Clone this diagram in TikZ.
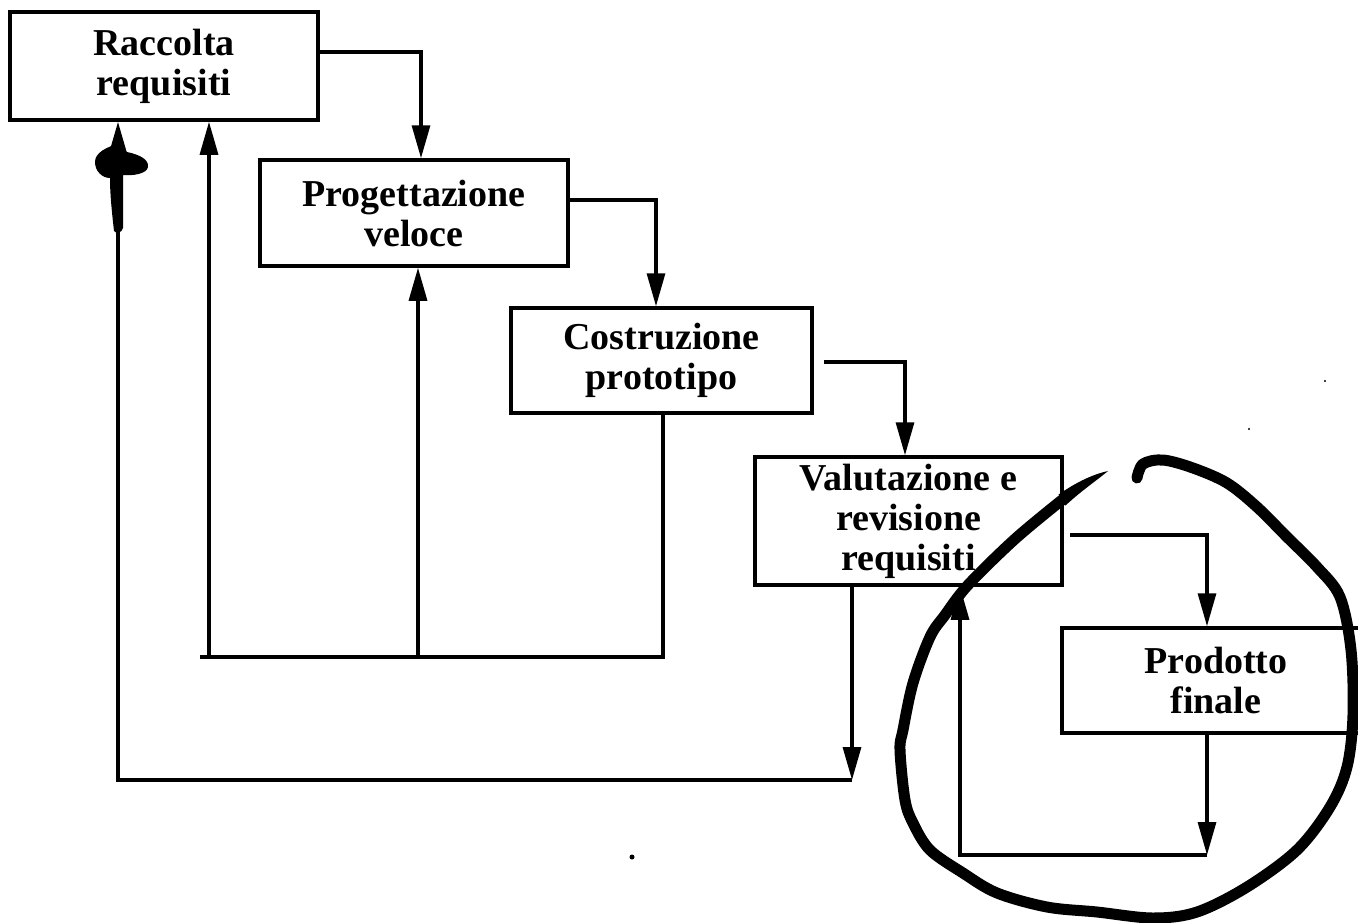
\documentclass[tikz,border=0pt]{standalone}
\usepackage{fontspec}
\setmainfont{Liberation Serif}
\usetikzlibrary{arrows.meta,calc}
\begin{document}
\begin{tikzpicture}[x=1pt,y=-1pt,
  stepbox/.style={draw, line width=3.5pt, inner sep=0pt, align=center,
    font=\fontsize{38}{40}\selectfont\bfseries},
  link/.style={line width=3.2pt},
  arr/.style={link, -{Triangle[length=33pt,width=18pt]}},
  ink/.style={line width=11pt, line cap=round, line join=round}]
\fill[white] (0,0) rectangle (1358,922);
\useasboundingbox (0,0) rectangle (1358,922);

% process steps
\node[stepbox, minimum width=308pt, minimum height=108pt] (rac)  at (164,66)    {Raccolta\\requisiti};
\node[stepbox, minimum width=308pt, minimum height=106pt] (prog) at (414,213)   {Progettazione\\veloce};
\node[stepbox, minimum width=301pt, minimum height=105pt] (cos)  at (661.5,360.5) {Costruzione\\prototipo};
\node[stepbox, minimum width=307pt, minimum height=128pt] (val)  at (908.5,521) {Valutazione e\\revisione\\requisiti};
\node[stepbox, minimum width=308pt, minimum height=105pt] (prod) at (1216,680.5) {Prodotto\\finale};

% forward flow
\coordinate (k1) at (421,52);
\draw[arr] (rac.east |- k1) -- (k1) -- (k1 |- prog.north);
\coordinate (k2) at (656,200);
\draw[arr] (prog.east |- k2) -- (k2) -- (k2 |- cos.north);
\coordinate (k3) at (905,362);
\draw[arr] ($(cos.east |- k3)+(10,0)$) -- (k3) -- (k3 |- val.north);
\coordinate (k4) at (1207,535);
\draw[arr] ($(val.east |- k4)+(6,0)$) -- (k4) -- (k4 |- prod.north);

% loop from the final product back to the evaluation
\coordinate (k5) at (1207,855);
\coordinate (k6) at (960,855);
\draw[arr] (k5 |- prod.south) -- (k5);
\draw[arr] (k5) -- (k6) -- (k6 |- val.south);

% loop from the evaluation back to requirements
\coordinate (k7) at (852,780);
\coordinate (k8) at (118,780);
\draw[arr] (k7 |- val.south) -- (k7);
\draw[arr] (k7) -- (k8) -- (k8 |- rac.south);

% loop from the prototype back to requirements and design
\coordinate (k9) at (663,657);
\coordinate (k10) at (200,657);
\coordinate (k11) at (209,657);
\coordinate (k12) at (418,657);
\draw[link] (k9 |- cos.south) -- (k9) -- (k10);
\draw[arr] (k11) -- (k11 |- rac.south);
\draw[arr] (k12) -- (k12 |- prog.south);

% ink blot on the left arrow
\fill (121,146) .. controls (124,150) .. (127,152)
  .. controls (141,155) and (149,160) .. (148,167)
  .. controls (147,174) and (132,176) .. (123,175)
  -- (123,228) .. controls (122,233) and (116,234) .. (114,231)
  .. controls (112,213) and (110,195) .. (110,178)
  .. controls (102,178) and (95,171) .. (95,162)
  .. controls (95,152) and (108,147) .. (117,144) -- cycle;

% hand-drawn loop around the final product
\fill (1108,471) .. controls (1090,475) and (1074,484) .. (1058.5,494.5)
  -- (1065.5,505.5) .. controls (1081,491) and (1096,481) .. (1108,471) -- cycle;
\draw[ink] plot[smooth, tension=0.55] coordinates {
  (1062,500) (1015,539) (968,585) (945,615) (930,637) (913,683) (903,730)
  (900,750) (905,800) (913,823) (930,850) (963,873) (997,893) (1047,907)
  (1097,912) (1153,918) (1197,912) (1247,887) (1297,850) (1330,807)
  (1347,767) (1353,715) (1351,650) (1340,597) (1317,567) (1287,537)
  (1257,507) (1227,483) (1193,468) (1163,460) (1143,464) (1137,478)};

% specks
\fill (632,857) circle (2.5);
\fill (1325,381) circle (1.2);
\fill (1249,429) circle (1.2);
\end{tikzpicture}
\end{document}
